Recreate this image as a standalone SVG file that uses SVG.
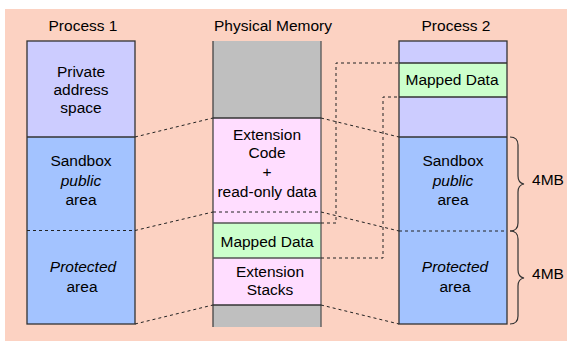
<svg xmlns="http://www.w3.org/2000/svg" width="567" height="341" viewBox="0 0 567 341">
<style>
text{font-family:"Liberation Sans",Arial,sans-serif;font-size:15.5px;fill:#000;text-anchor:middle}
.i{font-style:italic}
.bx{stroke:#333;stroke-width:1.3}
.sep{stroke:#333;stroke-width:1.3;fill:none}
.d{stroke:#222;stroke-width:1;stroke-dasharray:3,3;fill:none}
.br{stroke:#333;stroke-width:1.2;fill:none}
</style>
<rect x="5" y="9" width="562" height="332" fill="#FCD2C2"/>
<g id="process1">
<text x="83" y="31">Process 1</text>
<rect x="27" y="41" width="108" height="96" fill="#CCCCFF"/>
<rect x="27" y="137" width="108" height="187" fill="#A3C3FF"/>
<rect x="27" y="41" width="108" height="283" fill="none" class="bx"/>
<line x1="27" y1="137" x2="135" y2="137" class="sep"/>
<line x1="27" y1="230.5" x2="135" y2="230.5" class="d"/>
<text x="81" y="77">Private</text>
<text x="81" y="95">address</text>
<text x="81" y="113">space</text>
<text x="81" y="166">Sandbox</text>
<text x="81" y="186" class="i">public</text>
<text x="81" y="205">area</text>
<text x="83" y="272" class="i">Protected</text>
<text x="82" y="292">area</text>
</g>
<g id="physical-memory">
<text x="273" y="31">Physical Memory</text>
<rect x="213" y="41" width="108" height="77" fill="#BFBFBF"/>
<rect x="213" y="118" width="108" height="105" fill="#FFDDFF"/>
<rect x="213" y="223" width="108" height="35" fill="#CCFFCC"/>
<rect x="213" y="258" width="108" height="47" fill="#FFDDFF"/>
<rect x="213" y="305" width="108" height="22" fill="#BFBFBF"/>
<line x1="213" y1="41" x2="213" y2="327" stroke="#444" stroke-width="1.3"/>
<line x1="321" y1="41" x2="321" y2="327" stroke="#555" stroke-width="1.3"/>
<line x1="213" y1="118" x2="321" y2="118" class="sep"/>
<line x1="213" y1="223" x2="321" y2="223" stroke="#555" stroke-width="1.3"/>
<line x1="213" y1="258" x2="321" y2="258" stroke="#555" stroke-width="1.3"/>
<line x1="213" y1="305" x2="321" y2="305" class="sep"/>
<line x1="213" y1="212" x2="321" y2="212" class="d"/>
<text x="267" y="140">Extension</text>
<text x="267" y="158">Code</text>
<text x="267" y="177">+</text>
<text x="267" y="197">read-only data</text>
<text x="267" y="247">Mapped Data</text>
<text x="270" y="277">Extension</text>
<text x="270" y="295">Stacks</text>
</g>
<g id="process2">
<text x="456" y="31">Process 2</text>
<rect x="399" y="41" width="108" height="22" fill="#CCCCFF"/>
<rect x="399" y="63" width="108" height="34" fill="#CCFFCC"/>
<rect x="399" y="97" width="108" height="40" fill="#CCCCFF"/>
<rect x="399" y="137" width="108" height="187" fill="#A3C3FF"/>
<rect x="399" y="41" width="108" height="283" fill="none" class="bx"/>
<line x1="399" y1="63" x2="507" y2="63" class="sep"/>
<line x1="399" y1="97" x2="507" y2="97" class="sep"/>
<line x1="399" y1="137" x2="507" y2="137" class="sep"/>
<line x1="399" y1="231" x2="507" y2="231" class="d"/>
<text x="452" y="85">Mapped Data</text>
<text x="453" y="166">Sandbox</text>
<text x="453" y="186" class="i">public</text>
<text x="453" y="205">area</text>
<text x="455" y="272" class="i">Protected</text>
<text x="455" y="292">area</text>
</g>
<g id="braces">
<path d="M510 137 Q518 137 518 145 L518 176 Q518 183 524 184 Q518 185 518 192 L518 223 Q518 231 510 231" class="br"/>
<path d="M510 231 Q518 231 518 239 L518 270 Q518 277 524 278 Q518 279 518 286 L518 316 Q518 324 510 324" class="br"/>
<text x="548" y="185">4MB</text>
<text x="548" y="279">4MB</text>
</g>
<g id="connectors">
<line x1="135" y1="137" x2="213" y2="118" class="d"/>
<line x1="135" y1="230.5" x2="213" y2="212" class="d"/>
<line x1="135" y1="324" x2="213" y2="305" class="d"/>
<line x1="321" y1="118" x2="399" y2="137" class="d"/>
<line x1="321" y1="212" x2="399" y2="231" class="d"/>
<line x1="321" y1="305" x2="399" y2="324" class="d"/>
<polyline points="321,223 336,223 336,63 399,63" class="d"/>
<polyline points="321,258 383,258 383,97 399,97" class="d"/>
</g>
</svg>
